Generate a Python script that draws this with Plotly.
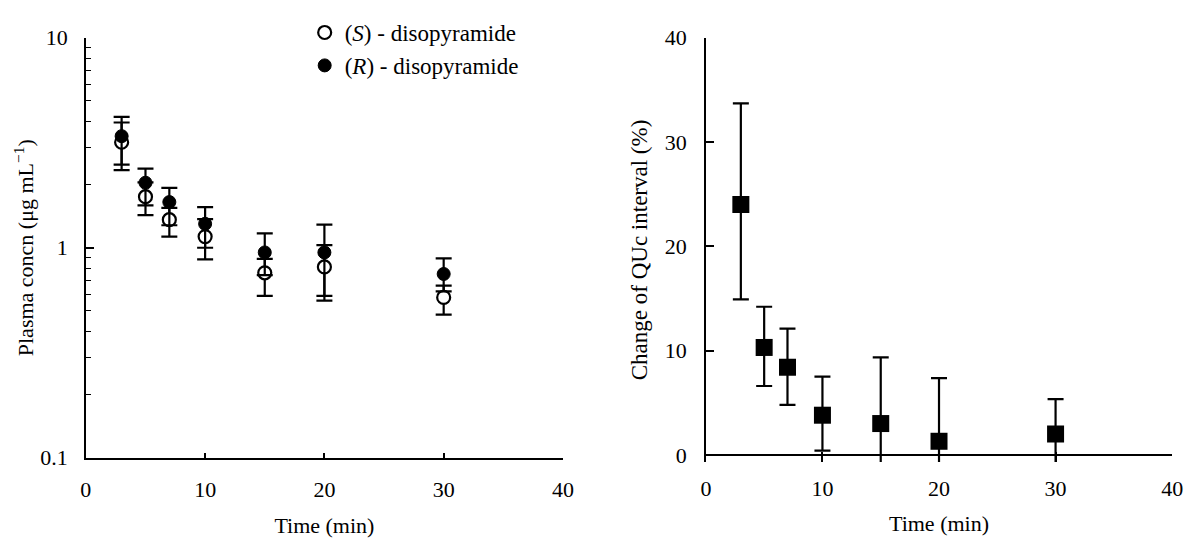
import plotly.graph_objects as go

# ---- data ----
time_min = [3, 5, 7, 10, 15, 20, 30]

s_mean = [3.18, 1.75, 1.36, 1.13, 0.76, 0.81, 0.58]
s_upper = [3.95, 2.05, 1.55, 1.37, 0.885, 1.03, 0.66]
s_lower = [2.34, 1.43, 1.13, 0.88, 0.59, 0.56, 0.48]

r_mean = [3.40, 2.04, 1.65, 1.30, 0.95, 0.95, 0.75]
r_upper = [4.20, 2.38, 1.93, 1.56, 1.17, 1.29, 0.89]
r_lower = [2.49, 1.59, 1.28, 1.00, 0.74, 0.59, 0.62]

qtc_mean = [24.0, 10.3, 8.4, 3.8, 3.0, 1.3, 2.0]
qtc_upper = [33.7, 14.2, 12.1, 7.5, 9.35, 7.35, 5.35]
qtc_lower = [14.9, 6.6, 4.8, 0.4, -3.35, -4.7, -1.35]

x_ticks = [0, 10, 20, 30, 40]
conc_ticks = [0.1, 1, 10]
conc_ticktext = ["0.1", "1", "10"]
conc_minor = [0.2, 0.3, 0.4, 0.5, 0.6, 0.7, 0.8, 0.9, 2, 3, 4, 5, 6, 7, 8, 9]
qtc_ticks = [0, 10, 20, 30, 40]

FONT = "Liberation Serif"

W, H = 1193, 549


def fx(px):
    return px / W


def fy(py):
    return 1 - py / H


def up(u, m):
    return [a - b for a, b in zip(u, m)]


def dn(m, l):
    return [a - b for a, b in zip(m, l)]


fig = go.Figure()

fig.add_trace(go.Scatter(
    x=time_min, y=s_mean, mode="markers", name="(<i>S</i>) - disopyramide",
    legendgroup="s",
    marker=dict(symbol="circle", size=13, color="white", line=dict(color="black", width=2.2)),
    error_y=dict(type="data", symmetric=False, array=up(s_upper, s_mean),
                 arrayminus=dn(s_mean, s_lower), color="black", thickness=2.2, width=8),
    xaxis="x", yaxis="y",
))
fig.add_trace(go.Scatter(
    x=time_min, y=r_mean, mode="markers", name="(<i>R</i>) - disopyramide",
    legendgroup="r",
    marker=dict(symbol="circle", size=13, color="black", line=dict(color="black", width=1)),
    error_y=dict(type="data", symmetric=False, array=up(r_upper, r_mean),
                 arrayminus=dn(r_mean, r_lower), color="black", thickness=2.2, width=8),
    xaxis="x", yaxis="y",
))
fig.add_trace(go.Scatter(
    x=time_min, y=qtc_mean, mode="markers", showlegend=False,
    marker=dict(symbol="square", size=17, color="black"),
    error_y=dict(type="data", symmetric=False, array=up(qtc_upper, qtc_mean),
                 arrayminus=dn(qtc_mean, qtc_lower), color="black", thickness=2.2, width=8),
    xaxis="x2", yaxis="y2",
))

axis_common = dict(showgrid=False, linecolor="black", linewidth=1.5, ticks="inside",
                   tickcolor="black", tickwidth=1.5,
                   tickfont=dict(family=FONT, size=22, color="black"))

fig.update_layout(
    width=W, height=H,
    margin=dict(l=0, r=0, t=0, b=0),
    paper_bgcolor="white", plot_bgcolor="white",
    font=dict(family=FONT, color="black"),
    showlegend=True,
    legend=dict(x=fx(303), y=fy(-1), xanchor="left", yanchor="top",
                font=dict(family=FONT, size=23, color="black"),
                bgcolor="rgba(0,0,0,0)", tracegroupgap=0, itemwidth=30),
    xaxis=dict(domain=[fx(81), fx(565)], range=[0, 40], tickvals=x_ticks,
               showline=True, zeroline=False, ticklen=5, ticklabelstandoff=11,
               title=dict(text="Time (min)", font=dict(family=FONT, size=22), standoff=17),
               anchor="y", **axis_common),
    yaxis=dict(domain=[fy(467), fy(27)], type="log", range=[-1, 1],
               tickvals=conc_ticks, ticktext=conc_ticktext,
               showline=True, zeroline=False, ticklen=8, ticklabelstandoff=12,
               minor=dict(tickmode="array", tickvals=conc_minor, ticks="inside",
                          ticklen=5, tickcolor="black", tickwidth=1.2, showgrid=False),
               title=dict(text="Plasma concn (μg mL<sup>−1</sup>)",
                          font=dict(family=FONT, size=22), standoff=0),
               anchor="x", **axis_common),
    xaxis2=dict(domain=[fx(710), fx(1183)], range=[0, 40], tickvals=x_ticks,
                showline=False, zeroline=False, ticklen=10, ticklabelstandoff=11,
                title=dict(text="Time (min)", font=dict(family=FONT, size=22), standoff=15),
                anchor="y2", **axis_common),
    yaxis2=dict(domain=[fy(471.6), fy(27)], range=[-0.7, 40], tickvals=qtc_ticks,
                showline=True, zeroline=True, zerolinecolor="black", zerolinewidth=1.5,
                ticklen=8, ticklabelstandoff=13,
                title=dict(text="Change of QUc interval (%)",
                           font=dict(family=FONT, size=23), standoff=11),
                anchor="x2", **axis_common),
)

fig.write_html("out.html", post_script="document.body.style.margin='0px';")
